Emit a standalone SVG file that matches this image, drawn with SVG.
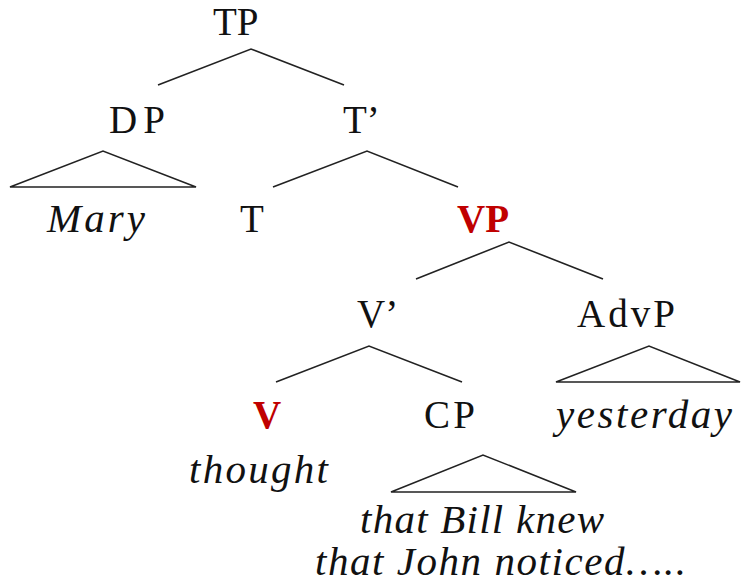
<svg xmlns="http://www.w3.org/2000/svg" width="741" height="585" viewBox="0 0 741 585">
<style>
text{font-family:"Liberation Serif","Times New Roman",serif;font-size:39px;fill:#111}
.it{font-style:italic;font-size:41px}
.red{fill:#c00000;font-weight:bold}
.e{stroke:#222;stroke-width:1.6;fill:none}
</style>
<rect width="741" height="585" fill="#fff"/>
<g id="connectors">
<polyline class="e" points="158,85 251,49 344,85"/>
<polygon class="e" points="10,187 103,151 196,187"/>
<polyline class="e" points="273,187 367,151 458,187"/>
<polyline class="e" points="416,279 509,242 603,279"/>
<polyline class="e" points="276,382 369,346 462,382"/>
<polygon class="e" points="556,382 649,346 740,382"/>
<polygon class="e" points="391,492 483,455 576,492"/>
</g>
<g id="TP"><text x="213" y="35">TP</text></g>
<g id="DP"><text x="109" y="133" textLength="56" lengthAdjust="spacing">DP</text></g>
<g id="Tbar"><text x="343" y="133">T’</text></g>
<g id="Mary"><text class="it" x="47" y="232" textLength="98" lengthAdjust="spacing">Mary</text></g>
<g id="T"><text x="240" y="232">T</text></g>
<g id="VP"><text class="red" x="457" y="232">VP</text></g>
<g id="Vbar"><text x="357" y="327">V’</text></g>
<g id="AdvP"><text x="577" y="327" textLength="98" lengthAdjust="spacing">AdvP</text></g>
<g id="V"><text class="red" x="253" y="428">V</text></g>
<g id="CP"><text x="424" y="428" textLength="51" lengthAdjust="spacing">CP</text></g>
<g id="yesterday"><text class="it" x="556" y="428" textLength="176" lengthAdjust="spacing">yesterday</text></g>
<g id="thought"><text class="it" x="189" y="483" textLength="139" lengthAdjust="spacing">thought</text></g>
<g id="cp-content">
<text class="it" x="360" y="533" textLength="244" lengthAdjust="spacing">that Bill knew</text>
<text class="it" x="315" y="575" textLength="371" lengthAdjust="spacing">that John noticed…..</text>
</g>
</svg>
